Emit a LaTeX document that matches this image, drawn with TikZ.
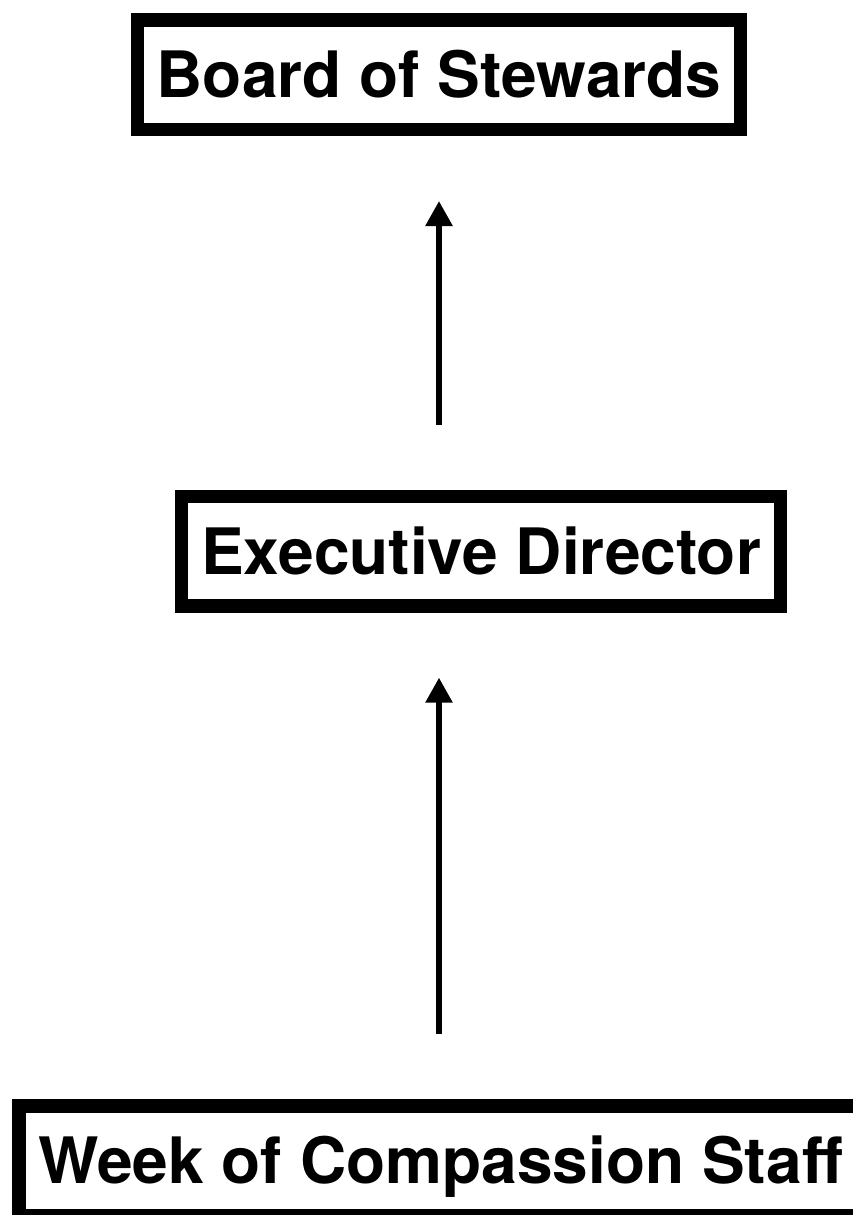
\documentclass[tikz,border=0pt]{standalone}
\usepackage{fontspec}
\setmainfont{TeX Gyre Heros}
\usepackage{tikz}
\usetikzlibrary{arrows.meta, positioning}

\begin{document}
\begin{tikzpicture}[
    block/.style={rectangle, draw, line width=10pt, font=\fontsize{48}{58}\selectfont\bfseries, inner xsep=14.5pt, minimum height=82pt, text height=34.5pt, text depth=0pt},
    arrow/.style={line width=4.3pt, -{Triangle[width=19.5pt, length=18.75pt]}, shorten <=48.75pt, shorten >=48.75pt}
]
\useasboundingbox (0,0) rectangle (639.75pt,-911.25pt);

% Board
\node (board) [block] at (329.25pt,-56pt) {Board of Stewards};

% Director
\node (exec) [block, below=265.5pt of board, xshift=31.5pt] {Executive Director};

% Staff
\node (week) [block, below=365pt of exec, xshift=-30.25pt] {Week of Compassion Staff};

% Arrows
\draw [arrow] (exec.north -| board.south) -- (board.south);
\draw [arrow] (week.north -| board.south) -- (exec.south -| board.south);

\end{tikzpicture}
\end{document}
